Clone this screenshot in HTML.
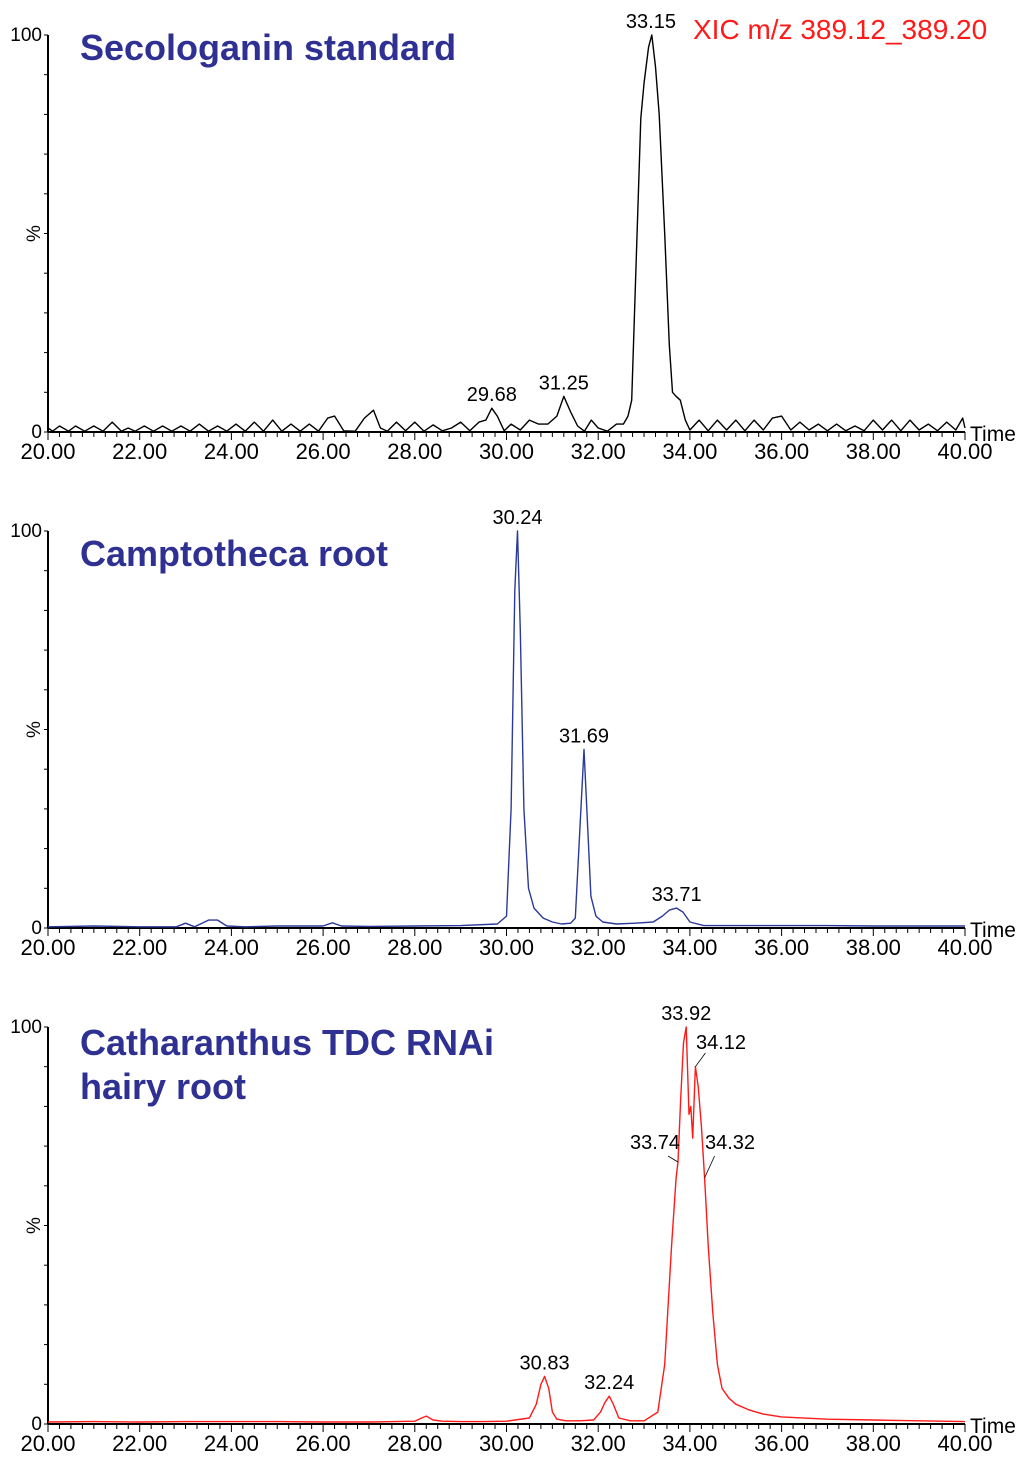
<!DOCTYPE html>
<html><head><meta charset="utf-8"><style>
html,body{margin:0;padding:0;background:#fff}
svg{display:block}
text{font-family:"Liberation Sans",Arial,sans-serif}
</style></head><body>
<svg id="chart" width="1024" height="1457" viewBox="0 0 1024 1457" xmlns="http://www.w3.org/2000/svg"></svg>
<script>
const xTickLabels = ["20.00","22.00","24.00","26.00","28.00","30.00","32.00","34.00","36.00","38.00","40.00"];
// Panel 1: secologanin standard (time, %)
const t1 = [20,20.1,20.25,20.45,20.6,20.8,21,21.2,21.4,21.6,21.75,21.9,22.1,22.3,22.5,22.7,22.9,23.1,23.3,23.5,23.7,23.9,24.1,24.3,24.5,24.7,24.9,25.1,25.3,25.5,25.7,25.9,26.1,26.25,26.45,26.7,26.9,27.1,27.25,27.4,27.6,27.8,28.0,28.2,28.4,28.6,28.8,29.0,29.2,29.4,29.55,29.68,29.8,29.95,30.1,30.3,30.5,30.7,30.9,31.1,31.25,31.4,31.55,31.7,31.85,32.0,32.2,32.4,32.55,32.65,32.73,32.8,32.93,33.0,33.1,33.17,33.25,33.33,33.45,33.55,33.62,33.7,33.79,33.9,34.0,34.2,34.4,34.6,34.8,35.0,35.2,35.4,35.6,35.8,36.0,36.2,36.4,36.6,36.8,37.0,37.2,37.4,37.6,37.8,38.0,38.2,38.4,38.6,38.8,39.0,39.2,39.4,39.6,39.8,39.95,40];
const v1 = [1,0.2,1.5,0.2,1.5,0.2,1.5,0.2,2.5,0.2,1,0.2,1.5,0.2,1.5,0.2,1.5,0.2,2,0.2,1.5,0.2,2,0.2,2.5,0.2,3,0.2,2,0.2,2,0.2,3.5,4,0.3,0.2,3.5,5.5,1,0.2,2.5,0.3,2.5,0.2,1.8,0.3,1,2.5,0.3,2.5,3,6,4,0.3,2,0.5,3,2,2,4,9,5,1.5,0.2,3,1,0.2,2,2,4,8,33,79,88,97,100,92,80,50,22,10,9,8,3,0.5,3,0.3,3,0.5,3,0.3,3,0.5,3.5,4,0.5,2.5,0.5,2,0.3,2,0.3,1.5,0.3,3,0.5,3,0.3,3,0.5,2,0.3,2.5,0.5,3.5,1];
// Panel 2: Camptotheca root
const t2 = [20,21,22,22.8,23.0,23.2,23.5,23.7,23.9,24.3,25,26.0,26.2,26.4,27,28,29,29.8,30.0,30.1,30.18,30.24,30.3,30.38,30.48,30.6,30.8,31.0,31.2,31.4,31.5,31.6,31.69,31.76,31.84,31.95,32.1,32.4,32.8,33.2,33.4,33.55,33.71,33.85,34.0,34.3,35,36,37,38,39,40];
const v2 = [0.3,0.5,0.3,0.3,1.2,0.3,2,2,0.5,0.3,0.5,0.5,1.3,0.5,0.4,0.5,0.6,1,3,30,85,100,75,30,10,5,2.5,1.5,1,1.2,2.5,25,45,28,8,3,1.5,1,1.2,1.5,3,4.5,5,4,1.5,0.6,0.6,0.6,0.6,0.5,0.5,0.5];
// Panel 3: Catharanthus TDC RNAi hairy root
const t3 = [20,21,22,23,24,25,26,27,28,28.15,28.25,28.4,28.6,29,29.5,30,30.5,30.65,30.75,30.83,30.92,31.0,31.1,31.3,31.6,31.9,32.05,32.15,32.24,32.33,32.45,32.7,33.0,33.3,33.45,33.6,33.7,33.74,33.8,33.86,33.92,33.98,34.02,34.06,34.12,34.18,34.25,34.32,34.4,34.5,34.6,34.7,34.85,35.0,35.3,35.6,36,37,38,39,40];
const v3 = [0.5,0.6,0.5,0.6,0.6,0.6,0.5,0.5,0.7,1.5,2,1,0.7,0.6,0.6,0.7,1.5,5,10,12,9,3,1.2,0.8,0.8,1,3,5.5,7,5,1.5,0.8,0.8,3,15,45,62,66,82,96,100,78,80,72,90,85,75,62,45,28,15,9,6.5,5,3.5,2.5,1.8,1.2,1,0.8,0.6];

const labels1 = [[29.68,"29.68",6],[31.25,"31.25",9],[33.15,"33.15",100]];
const labels2 = [[30.24,"30.24",100],[31.69,"31.69",45],[33.71,"33.71",5]];

const NS = "http://www.w3.org/2000/svg";
const svg = document.getElementById('chart');
const X0 = 48, X1 = 965, TMIN = 20, TMAX = 40;
function xs(t){ return X0 + (t - TMIN) / (TMAX - TMIN) * (X1 - X0); }
function mk(tag, attrs, parent){ const e = document.createElementNS(NS, tag); for (const k in attrs) e.setAttribute(k, attrs[k]); (parent||svg).appendChild(e); return e; }

function panel(base, color, ts, vs, name){
  const H = 397;
  const ys = v => base - v / 100 * H;
  const g = mk('g', {});
  
  
  const ya = mk('line', {x1:X0, y1:base, x2:X0, y2:base - H, stroke:'#000', 'stroke-width':2}, g);
  
  
  for (let p = 0; p <= 100; p += 10) {
    mk('line', {x1:X0-4, y1:ys(p), x2:X0, y2:ys(p), stroke:'#000', 'stroke-width':1}, g);
  }
  const t100 = mk('text', {x:X0-6, y:ys(100)+6, 'font-size':19, 'text-anchor':'end'}, g); t100.textContent = '100';
  
  
  const t0 = mk('text', {x:X0-6, y:base+6, 'font-size':19, 'text-anchor':'end'}, g); t0.textContent = '0';
  
  
  const pc = mk('text', {x:0, y:0, 'font-size':19, 'text-anchor':'middle', transform:`translate(40 ${ys(50)}) rotate(-90)`}, g); pc.textContent = '%';
  
  
  const xa = mk('line', {x1:X0, y1:base, x2:X1, y2:base, stroke:'#000', 'stroke-width':2}, g);
  
  
  for (let t = TMIN; t <= TMAX + 1e-6; t += 0.25) {
    const major = Math.abs(t/2 - Math.round(t/2)) < 1e-6;
    mk('line', {x1:xs(t), y1:base, x2:xs(t), y2:base + (major ? 8 : 5), stroke:'#000', 'stroke-width':1}, g);
  }
  xTickLabels.forEach(l => {
    const tx = mk('text', {x:xs(parseFloat(l)), y:base+27, 'font-size':22, 'text-anchor':'middle'}, g);
    tx.textContent = l;
    
    
  });
  const tm = mk('text', {x:970, y:base+9, 'font-size':21}, g); tm.textContent = 'Time';
  
  
  const pts = ts.map((t,i) => xs(t).toFixed(1) + ',' + ys(vs[i]).toFixed(1)).join(' ');
  const pl = mk('polyline', {points:pts, fill:'none', stroke:color, 'stroke-width':1.4, 'stroke-linejoin':'round'}, g);
  
  
  return {g, ys};
}

function peakLabels(p, list){
  list.forEach(([t, s, v]) => {
    const tx = mk('text', {x:xs(t), y:p.ys(v)-7, 'font-size':20, 'text-anchor':'middle'}, p.g);
    tx.textContent = s;
    
    
  });
}
function title(p, lines, y){
  lines.forEach((l, i) => {
    const tx = mk('text', {x:80, y:y + i*44, 'font-size':36, 'font-weight':'bold', fill:'#2e3192'}, p.g);
    tx.textContent = l;
    
    
  });
}

const p1 = panel(432, '#000', t1, v1, 'secologanin');
peakLabels(p1, labels1);
title(p1, ['Secologanin standard'], 60);
const xic = mk('text', {x:693, y:39, 'font-size':28, fill:'#ff1a1a'});
xic.textContent = 'XIC m/z 389.12_389.20';



const p2 = panel(928, '#2b3a9a', t2, v2, 'camptotheca');
peakLabels(p2, labels2);
title(p2, ['Camptotheca root'], 566);

const p3 = panel(1424, '#ff1a1a', t3, v3, 'catharanthus');
peakLabels(p3, [[30.83,"30.83",12],[32.24,"32.24",7],[33.92,"33.92",100]]);
title(p3, ['Catharanthus TDC RNAi','hairy root'], 1055);
[[34.12,"34.12",90,721,1049],[33.74,"33.74",66,655,1149],[34.32,"34.32",62,730,1149]].forEach(([t,s,v,lx,ly]) => {
  const tx = mk('text', {x:lx, y:ly, 'font-size':20, 'text-anchor':'middle'}, p3.g);
  tx.textContent = s;
  
  
  const side = lx < xs(t) ? 1 : -1;
  mk('line', {x1:xs(t) - side*10, y1:ly+ (ly<1100?4:7), x2:xs(t), y2:p3.ys(v), stroke:'#000', 'stroke-width':0.8}, p3.g);
});
</script>
</body></html>
